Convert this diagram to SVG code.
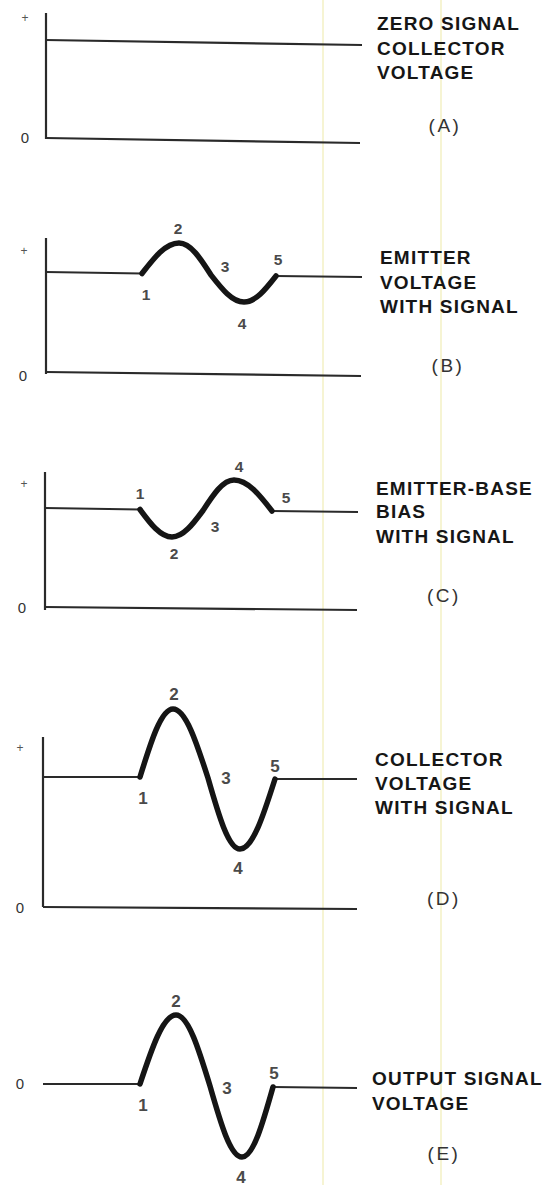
<svg xmlns="http://www.w3.org/2000/svg" width="551" height="1185" viewBox="0 0 551 1185">
<style>
.ax{stroke:#2a2a2a;stroke-width:2.2;fill:none;stroke-linecap:butt}
.sig{stroke:#151515;stroke-width:5.5;fill:none;stroke-linejoin:round;stroke-linecap:round}
.art{stroke:#f3f1c4;stroke-width:1.5;fill:none}
.lbl{font-family:"Liberation Sans",Arial,sans-serif;font-weight:bold;font-size:19px;letter-spacing:1.2px;fill:#161616}
.tag{font-family:"Liberation Sans",Arial,sans-serif;font-size:19px;letter-spacing:2.5px;fill:#333;text-anchor:middle}
.num{font-family:"Liberation Sans",Arial,sans-serif;font-weight:bold;font-size:15.5px;fill:#4a4a4a;text-anchor:middle}
.numL{font-family:"Liberation Sans",Arial,sans-serif;font-weight:bold;font-size:17px;fill:#4a4a4a;text-anchor:middle}
.zero{font-family:"Liberation Sans",Arial,sans-serif;font-size:15px;fill:#333;text-anchor:middle}
.plus{font-family:"Liberation Sans",Arial,sans-serif;font-size:12px;fill:#555;text-anchor:middle}
</style>
<rect width="551" height="1185" fill="#ffffff"/>
<g id="scan-artifacts">
<line class="art" x1="323" y1="0" x2="323" y2="1185"/>
<line class="art" x1="441" y1="0" x2="441" y2="1185"/>
</g>
<g id="panel-a">
<path class="ax" d="M46,13 V139"/>
<path class="ax" d="M46,40 L362,45"/>
<path class="ax" d="M46,138 L360,143"/>
<text class="plus" x="25" y="22">+</text>
<text class="zero" x="25" y="143">0</text>
<text class="lbl" x="377" y="30">ZERO SIGNAL</text>
<text class="lbl" x="377" y="55">COLLECTOR</text>
<text class="lbl" x="377" y="79">VOLTAGE</text>
<text class="tag" x="445" y="132">(A)</text>
</g>
<g id="panel-b">
<path class="ax" d="M46,238 V374"/>
<path class="ax" d="M46,372 L361,376"/>
<path class="ax" d="M46,272 L142,273.5"/>
<path class="ax" d="M276,276 L362,277"/>
<path class="sig" d="M142,273.5 C154.1,257.9 165.6,243 179,243 C190.6,243 200.6,258.6 211,275 C221.8,288.8 232.1,302 244,302 C255.6,302 265.6,289.3 276,276"/>
<text class="plus" x="24" y="255">+</text>
<text class="zero" x="23" y="381">0</text>
<text class="num" x="146" y="300">1</text>
<text class="num" x="178" y="234">2</text>
<text class="num" x="225" y="272">3</text>
<text class="num" x="242" y="329" fill="#4a3236">4</text>
<text class="num" x="278" y="265">5</text>
<text class="lbl" x="380" y="264">EMITTER</text>
<text class="lbl" x="380" y="289">VOLTAGE</text>
<text class="lbl" x="380" y="313">WITH SIGNAL</text>
<text class="tag" x="448" y="372">(B)</text>
</g>
<g id="panel-c">
<path class="ax" d="M45,472 V610"/>
<path class="ax" d="M45,607 L357,610"/>
<path class="ax" d="M45,508 L140,509.5"/>
<path class="ax" d="M272,511 L358,512"/>
<path class="sig" d="M140,509.5 C150.4,523.6 160.4,537 172,537 C183.2,537 192.9,524.1 203,510.5 C213.1,494.9 222.8,480 234,480 C247.8,480 259.6,495.1 272,511"/>
<text class="plus" x="24" y="488">+</text>
<text class="zero" x="22" y="613">0</text>
<text class="num" x="140" y="499">1</text>
<text class="num" x="174" y="559">2</text>
<text class="num" x="215" y="532">3</text>
<text class="num" x="239" y="472">4</text>
<text class="num" x="286" y="503">5</text>
<text class="lbl" x="376" y="495">EMITTER-BASE</text>
<text class="lbl" x="376" y="518">BIAS</text>
<text class="lbl" x="376" y="543">WITH SIGNAL</text>
<text class="tag" x="444" y="602">(C)</text>
</g>
<g id="panel-d">
<path class="ax" d="M43,737 V907"/>
<path class="ax" d="M43,907 L357,909"/>
<path class="ax" d="M43,777 L140,777"/>
<path class="ax" d="M275,779 L357,779"/>
<path class="sig" d="M140,777 C150.8,742.2 161.1,709 173,709 C185.7,709 196.6,742.7 208,778 C218.4,814.4 228.4,849 240,849 C252.7,849 263.6,814.8 275,779"/>
<text class="plus" x="20" y="752">+</text>
<text class="zero" x="20" y="913">0</text>
<text class="numL" x="143" y="804">1</text>
<text class="numL" x="174" y="700">2</text>
<text class="numL" x="226" y="784">3</text>
<text class="numL" x="238" y="874">4</text>
<text class="numL" x="275" y="772">5</text>
<text class="lbl" x="375" y="766">COLLECTOR</text>
<text class="lbl" x="375" y="790">VOLTAGE</text>
<text class="lbl" x="375" y="814">WITH SIGNAL</text>
<text class="tag" x="444" y="905">(D)</text>
</g>
<g id="panel-e">
<path class="ax" d="M43,1084 L140,1084"/>
<path class="ax" d="M273,1087 L357,1088"/>
<path class="sig" d="M140,1084 C151.7,1048.7 163,1015 176,1015 C188.3,1015 198.9,1049.6 210,1086 C220.4,1122.4 230.4,1157 242,1157 C253.2,1157 262.9,1122.8 273,1087"/>
<text class="zero" x="20" y="1089">0</text>
<text class="numL" x="143" y="1111">1</text>
<text class="numL" x="176" y="1007">2</text>
<text class="numL" x="227" y="1094">3</text>
<text class="numL" x="241" y="1183">4</text>
<text class="numL" x="274" y="1079">5</text>
<text class="lbl" x="372" y="1085">OUTPUT SIGNAL</text>
<text class="lbl" x="372" y="1110">VOLTAGE</text>
<text class="tag" x="444" y="1160">(E)</text>
</g>
</svg>
